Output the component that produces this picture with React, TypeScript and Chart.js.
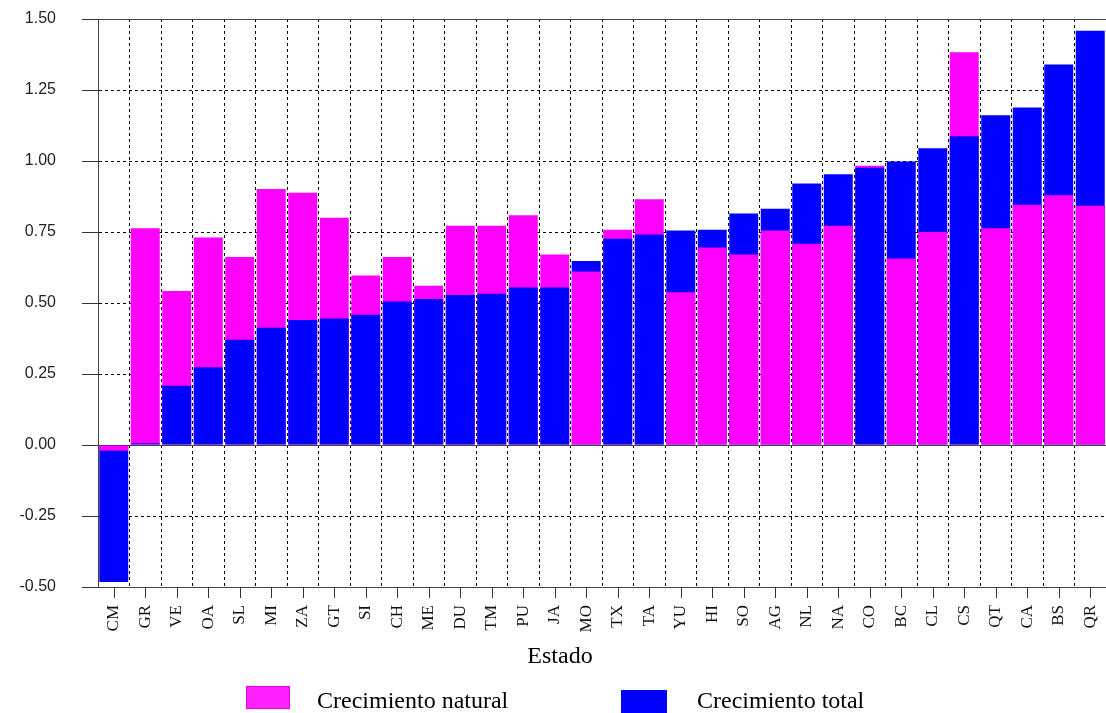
import React, { useEffect, useRef } from 'react';
import { Chart, registerables } from 'chart.js';

Chart.register(...registerables);

const categories = [
  'CM', 'GR', 'VE', 'OA', 'SL', 'MI', 'ZA', 'GT', 'SI', 'CH', 'ME', 'DU', 'TM', 'PU', 'JA', 'MO',
  'TX', 'TA', 'YU', 'HI', 'SO', 'AG', 'NL', 'NA', 'CO', 'BC', 'CL', 'CS', 'QT', 'CA', 'BS', 'QR',
];

const naturalGrowth = [
  -0.02, 0.763, 0.542, 0.731, 0.662, 0.901, 0.888, 0.8, 0.597, 0.662, 0.561, 0.772, 0.772, 0.809, 0.671, 0.611,
  0.758, 0.865, 0.538, 0.695, 0.671, 0.755, 0.709, 0.772, 0.983, 0.657, 0.75, 1.383, 0.763, 0.846, 0.879, 0.842,
];

const totalGrowth = [
  -0.482, 0.006, 0.209, 0.274, 0.371, 0.413, 0.44, 0.445, 0.459, 0.505, 0.514, 0.528, 0.533, 0.555, 0.555, 0.648,
  0.726, 0.741, 0.755, 0.758, 0.815, 0.832, 0.921, 0.953, 0.976, 0.998, 1.045, 1.087, 1.161, 1.188, 1.34, 1.459,
];

const seriesNames = ['Crecimiento natural', 'Crecimiento total'];
const seriesColors = ['#ff00ff', '#0000ff'];
const yTickValues = [-0.5, -0.25, 0, 0.25, 0.5, 0.75, 1.0, 1.25, 1.5];
const xAxisTitle = 'Estado';

export default function App() {
  const canvasRef = useRef<HTMLCanvasElement | null>(null);

  useEffect(() => {
    const canvas = canvasRef.current;
    if (!canvas) return;

    // Both series start at zero; the longer bar is drawn behind, the shorter in front.
    const naturalIsBack = categories.map((_, i) => Math.abs(naturalGrowth[i]) >= Math.abs(totalGrowth[i]));
    const backData = categories.map((_, i) => (naturalIsBack[i] ? naturalGrowth[i] : totalGrowth[i]));
    const frontData = categories.map((_, i) => (naturalIsBack[i] ? totalGrowth[i] : naturalGrowth[i]));
    const backColors = naturalIsBack.map((b) => (b ? seriesColors[0] : seriesColors[1]));
    const frontColors = naturalIsBack.map((b) => (b ? seriesColors[1] : seriesColors[0]));

    const isSolidTick = (ctx: any) =>
      ctx && ctx.tick && (Math.abs(ctx.tick.value) < 1e-9 || Math.abs(ctx.tick.value - 1.5) < 1e-9);

    const overlay = {
      id: 'overlay',
      afterDraw(chart: any) {
        const { ctx, chartArea } = chart;
        const x = chart.scales.x;
        ctx.save();
        // tick marks at category centres
        ctx.strokeStyle = '#333';
        ctx.lineWidth = 1;
        ctx.setLineDash([]);
        categories.forEach((_, i) => {
          const px = Math.round(x.getPixelForValue(i)) + 0.5;
          ctx.beginPath();
          ctx.moveTo(px, chartArea.bottom);
          ctx.lineTo(px, chartArea.bottom + 11);
          ctx.stroke();
        });
        // axis title
        ctx.fillStyle = '#000';
        ctx.font = '24px "Liberation Serif", "Times New Roman", serif';
        ctx.textAlign = 'center';
        ctx.textBaseline = 'alphabetic';
        ctx.fillText(xAxisTitle, 560, 663);
        // legend
        const boxes = [
          { x: 246, y: 686, w: 44, h: 23, fill: '#ff22ff', stroke: '#e600e6', tx: 317 },
          { x: 621, y: 690, w: 46, h: 24, fill: '#0000ff', stroke: '#0000ff', tx: 697 },
        ];
        ctx.textAlign = 'left';
        seriesNames.forEach((name, i) => {
          const b = boxes[i];
          ctx.fillStyle = b.fill;
          ctx.fillRect(b.x, b.y, b.w, b.h);
          ctx.strokeStyle = b.stroke;
          ctx.lineWidth = 1;
          ctx.strokeRect(b.x + 0.5, b.y + 0.5, b.w - 1, b.h - 1);
          ctx.fillStyle = '#000';
          ctx.fillText(name, b.tx, 708);
        });
        ctx.restore();
      },
    };

    const chart = new Chart(canvas, {
      type: 'bar',
      data: {
        labels: categories,
        datasets: [
          {
            label: 'front',
            data: frontData,
            backgroundColor: frontColors,
            borderWidth: 0,
            order: 0,
            barPercentage: 0.92,
            categoryPercentage: 1,
          },
          {
            label: 'back',
            data: backData,
            backgroundColor: backColors,
            borderWidth: 0,
            order: 1,
            barPercentage: 0.92,
            categoryPercentage: 1,
          },
        ],
      },
      options: {
        responsive: false,
        animation: false,
        devicePixelRatio: 1,
        layout: { padding: { top: 19, right: 0, left: 0, bottom: 0 } },
        plugins: {
          legend: { display: false },
          tooltip: { enabled: false },
        },
        scales: {
          x: {
            stacked: true,
            offset: true,
            grid: {
              offset: true,
              color: '#000',
              lineWidth: 1,
              drawTicks: true,
              tickLength: 12,
              tickColor: 'rgba(0,0,0,0)',
            },
            border: { display: true, color: '#444', width: 1, dash: [3, 3] },
            ticks: {
              autoSkip: false,
              maxRotation: 90,
              minRotation: 90,
              padding: 6,
              color: '#111',
              font: { family: '"Liberation Serif", "Times New Roman", serif', size: 17 },
            },
            afterFit(scale: any) {
              scale.height = 126;
              scale.paddingLeft = 0;
              scale.paddingRight = 0;
              scale.paddingTop = 0;
              scale.paddingBottom = 0;
            },
          },
          y: {
            stacked: false,
            min: -0.5,
            max: 1.5,
            afterBuildTicks(scale: any) {
              scale.ticks = yTickValues.map((v) => ({ value: v }));
            },
            grid: {
              color: (ctx: any) => (isSolidTick(ctx) ? '#444' : '#000'),
              lineWidth: 1,
              drawTicks: true,
              tickLength: 16,
              tickColor: '#333',
              tickBorderDash: [],
            },
            border: {
              display: true,
              color: '#444',
              width: 1,
              dash: (ctx: any) => (isSolidTick(ctx) ? [] : [3, 3]),
            },
            ticks: {
              padding: 26,
              color: '#222',
              font: { family: '"Liberation Sans", Arial, sans-serif', size: 16 },
              callback: (v: any) => Number(v).toFixed(2),
            },
            afterFit(scale: any) {
              scale.width = 98;
              scale.paddingTop = 0;
              scale.paddingBottom = 0;
              scale.paddingLeft = 0;
              scale.paddingRight = 0;
            },
          },
        },
      },
      plugins: [overlay],
    });

    return () => {
      chart.destroy();
    };
  }, []);

  return (
    <div style={{ position: 'absolute', left: 0, top: 0, width: 1106, height: 713, background: '#fff' }}>
      <canvas ref={canvasRef} width={1106} height={713} style={{ display: 'block' }} />
    </div>
  );
}
